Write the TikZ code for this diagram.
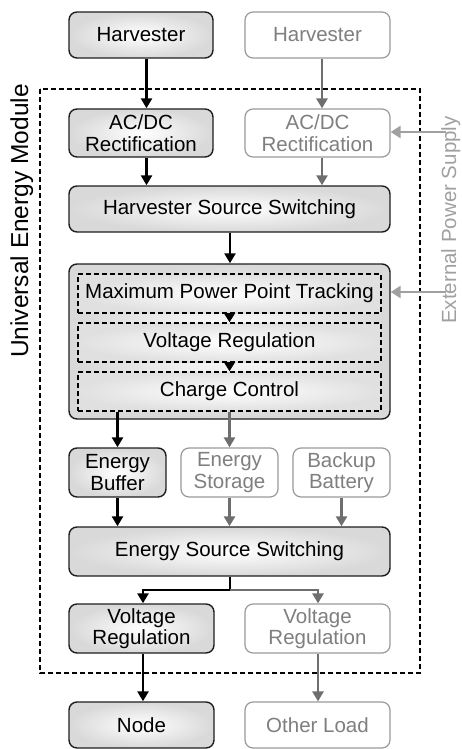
\documentclass[tikz,border=0pt]{standalone}
\usepackage{fontspec}
\setmainfont{Liberation Sans}
\usetikzlibrary{arrows.meta}
\definecolor{dimtext}{HTML}{7F7F7F}
\definecolor{dimline}{HTML}{9A9A9A}
\definecolor{dimarrow}{HTML}{6E6E6E}
\definecolor{extgray}{HTML}{A0A0A0}
\definecolor{boxedge}{HTML}{1E1E1E}
\tikzset{
  x=1pt, y=-1pt,
  every node/.style={font=\fontsize{20.5}{21.5}\selectfont, align=center, inner sep=0pt},
  mainbox/.style={shade, inner color=white, outer color=gray!30, draw=boxedge,
    line width=1.4pt, rounded corners=8pt},
  dimbox/.style={fill=white, draw=dimline, line width=1.2pt, rounded corners=8pt,
    text=dimtext},
  stagebox/.style={shade, inner color=white, outer color=gray!24, draw=black,
    line width=1.6pt, dash pattern=on 5pt off 3pt},
  arr/.style={draw=black, line width=2.4pt, -{Triangle[width=11pt,length=10pt]}},
  garr/.style={draw=dimarrow, line width=2.4pt, -{Triangle[width=11pt,length=10pt]}},
  earr/.style={draw=extgray, line width=2.8pt, -{Triangle[width=12pt,length=10pt]}},
  tiparr/.style={draw=black, line width=1pt, -{Triangle[width=11pt,length=9pt]}},
}
\begin{document}
\begin{tikzpicture}
\useasboundingbox (0,0) rectangle (461,749);

% module boundary
\draw[line width=1.6pt, dash pattern=on 5pt off 3pt] (40,89) rectangle (420,673);
\node[rotate=90, anchor=base, font=\fontsize{24.5}{26}\selectfont] (uem) at (28,221) {Universal Energy Module};
\node[rotate=90, anchor=base, text=extgray] (eps) at (456,220) {External Power Supply};

% harvesters and rectifiers
\node[mainbox, minimum width=144pt, minimum height=46pt] (hvL) at (141,35) {Harvester};
\node[dimbox, minimum width=145pt, minimum height=46pt] (hvR) at (317.5,35) {Harvester};
\node[mainbox, minimum width=144pt, minimum height=48pt] (acL) at (141,133) {AC/DC\\Rectification};
\node[dimbox, minimum width=145pt, minimum height=48pt] (acR) at (317.5,133) {AC/DC\\Rectification};
\node[mainbox, minimum width=321pt, minimum height=46pt] (hss) at (229.5,209) {Harvester Source Switching};

% conversion block
\node[mainbox, minimum width=321pt, minimum height=155pt] (core) at (229.5,341.5) {};
\node[stagebox, minimum width=303pt, minimum height=39pt] (mppt) at (229.5,293.5) {Maximum Power Point Tracking};
\node[stagebox, minimum width=303pt, minimum height=39pt] (vrin) at (229.5,342.5) {Voltage Regulation};
\node[stagebox, minimum width=303pt, minimum height=39pt] (cc) at (229.5,391.5) {Charge Control};

% storage
\node[mainbox, minimum width=97pt, minimum height=49pt] (buf) at (117.5,472.5) {Energy\\Buffer};
\node[dimbox, minimum width=97pt, minimum height=49pt] (sto) at (229.5,472.5) {Energy\\Storage};
\node[dimbox, minimum width=97pt, minimum height=49pt] (bat) at (341.5,472.5) {Backup\\Battery};
\node[mainbox, minimum width=321pt, minimum height=49pt] (ess) at (229.5,551.5) {Energy Source Switching};

% output regulation and loads
\node[mainbox, minimum width=145pt, minimum height=49pt] (vrL) at (141.5,628.5) {Voltage\\Regulation};
\node[dimbox, minimum width=145pt, minimum height=49pt] (vrR) at (317.5,628.5) {Voltage\\Regulation};
\node[mainbox, minimum width=145pt, minimum height=46pt] (nd) at (141.5,725) {Node};
\node[dimbox, minimum width=145pt, minimum height=46pt] (ol) at (317.5,725) {Other Load};

% connectors
\draw[arr] ([xshift=5.5pt]hvL.south) -- ([xshift=5.5pt]acL.north);
\draw[garr] ([xshift=4.5pt]hvR.south) -- ([xshift=4.5pt]acR.north);
\draw[arr] ([xshift=5.5pt]acL.south) -- ([xshift=5.5pt]acL.south |- hss.north);
\draw[garr] ([xshift=4.5pt]acR.south) -- ([xshift=4.5pt]acR.south |- hss.north);
\draw[arr] ([xshift=0.5pt]hss.south) -- ([xshift=0.5pt]core.north);
\draw[tiparr] (mppt.south) -- (vrin.north);
\draw[tiparr] (vrin.south) -- (cc.north);
\draw[arr] (buf.north |- cc.south) -- (buf.north);
\draw[garr] (cc.south) -- (sto.north);
\draw[arr] (buf.south) -- (buf.south |- ess.north);
\draw[garr] (sto.south) -- (ess.north);
\draw[garr] (bat.south) -- (bat.south |- ess.north);

\coordinate (split) at (230,590);
\draw[line width=1.2pt] ([xshift=0.5pt]ess.south) -- (split);
\draw[arr] (split) -| ([xshift=1.5pt]vrL.north);
\draw[garr] (split) -| ([xshift=0.5pt]vrR.north);
\draw[arr] ([xshift=1.5pt]vrL.south) -- ([xshift=1.5pt]nd.north);
\draw[garr] ([xshift=0.5pt]vrR.south) -- ([xshift=0.5pt]ol.north);

% external supply feeds
\coordinate (ext1) at (446,132);
\coordinate (ext2) at (446,292);
\draw[earr] (ext1) -- (ext1 -| acR.east);
\draw[earr] (ext2) -- (ext2 -| core.east);
\end{tikzpicture}
\end{document}
